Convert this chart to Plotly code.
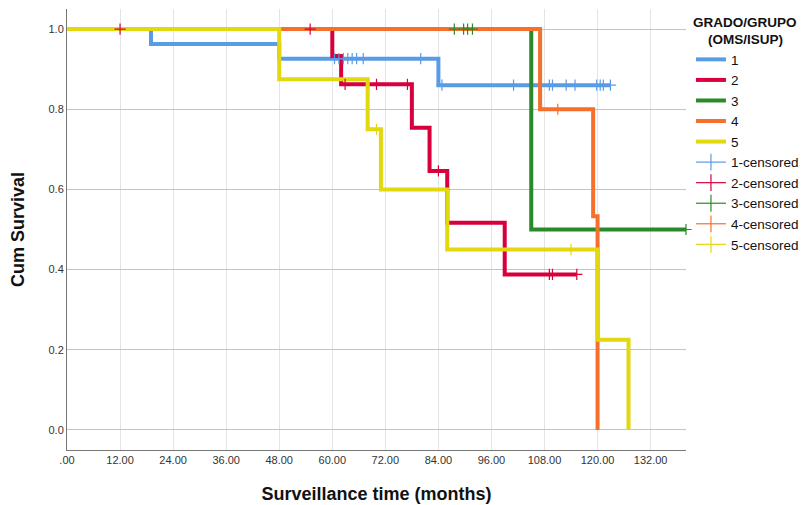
import plotly.graph_objects as go

# ---- data ----
groups = ["1", "2", "3", "4", "5"]
colors = ["#5A9BE6", "#D7003C", "#2A8A2A", "#F5702D", "#E3D70E"]

# step curves: event times and survival after each time (last point = end of follow-up)
g1_t = [0, 19, 48, 84, 122.9]
g1_s = [1.0, 0.963, 0.926, 0.86, 0.86]
g2_t = [0, 60, 62, 78, 82, 86, 99, 115.3]
g2_s = [1.0, 0.933, 0.862, 0.754, 0.646, 0.517, 0.388, 0.388]
g3_t = [0, 105, 140]
g3_s = [1.0, 0.5, 0.5]
g4_t = [0, 107, 119, 120]
g4_s = [1.0, 0.8, 0.533, 0.0]
g5_t = [0, 48, 68, 71, 86, 120, 127]
g5_s = [1.0, 0.875, 0.75, 0.6, 0.45, 0.225, 0.0]

# censored observations
c1_t = [60.5, 61.5, 62.5, 63.5, 64.5, 65.5, 67, 80, 84.8, 101, 109.1, 109.8, 112.9, 114.9, 119.8, 120.6, 121.3, 122.9]
c1_s = [0.926] * 8 + [0.86] * 10
c2_t = [12, 55, 62.9, 70, 77, 84, 109.1, 109.8, 115.3]
c2_s = [1.0, 1.0, 0.862, 0.862, 0.862, 0.646, 0.388, 0.388, 0.388]
c3_t = [87.6, 89.7, 90.6, 91.7, 140]
c3_s = [1.0, 1.0, 1.0, 1.0, 0.5]
c4_t = [111]
c4_s = [0.8]
c5_t = [70, 114]
c5_s = [0.75, 0.45]

x_ticks = [0, 12, 24, 36, 48, 60, 72, 84, 96, 108, 120, 132]
x_ticktext = [".00", "12.00", "24.00", "36.00", "48.00", "60.00", "72.00",
              "84.00", "96.00", "108.00", "120.00", "132.00"]
y_ticks = [0.0, 0.2, 0.4, 0.6, 0.8, 1.0]

curves = [(g1_t, g1_s), (g2_t, g2_s), (g3_t, g3_s), (g4_t, g4_s), (g5_t, g5_s)]
cens = [(c1_t, c1_s), (c2_t, c2_s), (c3_t, c3_s), (c4_t, c4_s), (c5_t, c5_s)]

fig = go.Figure()
for name, col, (t, s) in zip(groups, colors, curves):
    fig.add_trace(go.Scatter(x=t, y=s, mode="lines", line_shape="hv",
                             line=dict(color=col, width=4), name=name))
for name, col, (t, s) in zip(groups, colors, cens):
    fig.add_trace(go.Scatter(x=t, y=s, mode="markers", showlegend=False,
                             marker=dict(symbol="cross-thin", size=8,
                                         line=dict(color=col, width=1.2)),
                             cliponaxis=False))
    fig.add_trace(go.Scatter(x=[None], y=[None], mode="lines+markers",
                             name=name + "-censored",
                             line=dict(color=col, width=1.2),
                             marker=dict(symbol="line-ns", size=12,
                                         line=dict(color=col, width=1.2))))

font_main = "Liberation Sans, Arial, sans-serif"

# page body has an 8px margin, so the figure is sized to fit the 809x505 window
fig.update_layout(
    width=801, height=497,
    margin=dict(l=59, r=123, t=1, b=55),
    paper_bgcolor="white", plot_bgcolor="white",
    font=dict(family=font_main, size=12, color="#222"),
    legend=dict(
        x=1.008, xanchor="left", y=1.0, yanchor="top",
        title=dict(text="<b>GRADO/GRUPO<br>&nbsp;&nbsp;&nbsp;&nbsp;(OMS/ISUP)</b>",
                   font=dict(family=font_main, size=13.5, color="#111")),
        font=dict(family=font_main, size=13.5, color="#111"),
        itemwidth=30, tracegroupgap=0,
        bgcolor="rgba(0,0,0,0)",
    ),
    xaxis=dict(
        range=[0, 140], tickvals=x_ticks, ticktext=x_ticktext,
        showgrid=True, gridcolor="#e3e3e3", gridwidth=1,
        zeroline=False, showline=True, linecolor="#777", linewidth=1,
        ticks="", tickfont=dict(size=11, color="#333", family=font_main),
        title=dict(text="<b>Surveillance time (months)</b>",
                   font=dict(family=font_main, size=18, color="#111"),
                   standoff=22),
    ),
    yaxis=dict(
        range=[-0.05, 1.05], tickvals=y_ticks, tickformat=".1f",
        showgrid=True, gridcolor="#c4c4c4", gridwidth=1,
        zeroline=False, showline=True, linecolor="#777", linewidth=1,
        ticks="", tickfont=dict(size=11, color="#333", family=font_main),
        title=dict(text="<b>Cum Survival</b>",
                   font=dict(family=font_main, size=18, color="#111"),
                   standoff=20),
    ),
)

fig.write_html("out.html")
